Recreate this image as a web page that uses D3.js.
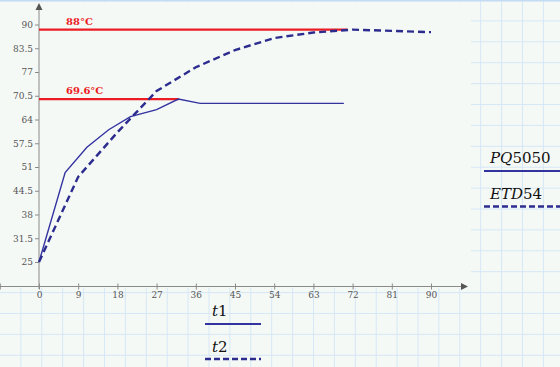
<!DOCTYPE html>
<html><head><meta charset="utf-8">
<script src="https://cdn.jsdelivr.net/npm/d3@7"></script>
<style>
html,body{margin:0;padding:0;background:#f5f9f6;}
svg{display:block;}
</style></head>
<body>
<svg id="c" width="560" height="367"></svg>
<script>
// ---- data ----
const t1 = [0, 6, 11, 16, 21, 27, 32, 37, 70];
const pq5050 = [25, 49.5, 56.4, 61.2, 64.8, 66.7, 69.6, 68.4, 68.4];
const t2 = [0, 9, 18, 27, 36, 45, 54, 63, 72, 90];
const etd54 = [25, 48.3, 60.5, 71.8, 78.3, 83, 86.3, 87.8, 88.6, 87.9];
const refValues = [88.6, 69.6];
const refEnds = [70.8, 32.1];
const refLabels = ["88°C", "69.6°C"];
const xTicks = [0, 9, 18, 27, 36, 45, 54, 63, 72, 81, 90];
const yTicks = [25, 31.5, 38, 44.5, 51, 57.5, 64, 70.5, 77, 83.5, 90];
const xLabels = ["t", "1"];
const xLabels2 = ["t", "2"];
const seriesNames = [["PQ", "5050"], ["ETD", "54"]];

const svg = d3.select("#c");
const W = 560, H = 367;
const serif = "DejaVu Serif";

// worksheet grid
const g0 = svg.append("g");
const step = 20.9;
for (let k = 1; k * step < W; k++) g0.append("line").attr("x1", k*step).attr("x2", k*step).attr("y1", 0).attr("y2", H).attr("stroke", "#d6e7f6").attr("stroke-width", 1);
for (let k = 1; k * step < H; k++) g0.append("line").attr("y1", k*step).attr("y2", k*step).attr("x1", 0).attr("x2", W).attr("stroke", "#d6e7f6").attr("stroke-width", 1);
g0.append("rect").attr("x", 0).attr("y", 2).attr("width", 471).attr("height", 286).attr("fill", "#f5f9f6");
g0.append("line").attr("x1", 0).attr("x2", W).attr("y1", 0.5).attr("y2", 0.5).attr("stroke", "#c4dcf3").attr("stroke-width", 2);

// scales
const x = d3.scaleLinear().domain([0, 90]).range([39, 431]);
const y = d3.scaleLinear().domain([25, 90]).range([262, 24.5]);
const axisY = 286.5, axisX = 39;

// x axis
const xa = svg.append("g").attr("transform", `translate(0,${axisY})`)
  .call(d3.axisBottom(x).tickValues([-9].concat(xTicks)).tickFormat(d => d < 0 ? "" : String(d)).tickSize(3).tickPadding(4))
  .attr("font-family", serif);
xa.select(".domain").remove();
xa.append("line").attr("x1", 0).attr("x2", 462).attr("stroke", "#8a8a8a").attr("stroke-width", 1);
xa.append("path").attr("d", "M468,0 L461,-3.5 L461,3.5 Z").attr("fill", "#555");
xa.selectAll(".tick line").attr("y1", -3).attr("y2", 3).attr("stroke", "#8a8a8a");
xa.selectAll(".tick text").attr("font-family", serif).attr("font-size", 9).attr("fill", "#555").attr("y", 5);

// y axis
const ya = svg.append("g").attr("transform", `translate(${axisX},0)`)
  .call(d3.axisLeft(y).tickValues(yTicks).tickFormat(d => String(d)).tickSize(4).tickPadding(2))
  .attr("font-family", serif);
ya.select(".domain").remove();
ya.append("line").attr("y1", 289).attr("y2", 10).attr("stroke", "#8a8a8a").attr("stroke-width", 1);
ya.append("path").attr("d", "M0,3 L-3.5,10 L3.5,10 Z").attr("fill", "#555");
ya.selectAll(".tick line").attr("stroke", "#8a8a8a");
ya.selectAll(".tick text").attr("font-family", serif).attr("font-size", 9).attr("fill", "#555");

// reference lines
refValues.forEach((v, i) => {
  svg.append("line").attr("x1", x(0)).attr("x2", x(refEnds[i])).attr("y1", y(v)).attr("y2", y(v))
    .attr("stroke", "#ec1c24").attr("stroke-width", 2.2);
  svg.append("text").attr("x", 66).attr("y", y(v) - 5).text(refLabels[i])
    .attr("font-family", serif).attr("font-weight", "bold").attr("font-size", 10).attr("fill", "#ec1c24");
});

// series
const line = d3.line().x(d => x(d[0])).y(d => y(d[1]));
svg.append("path").datum(t1.map((t, i) => [t, pq5050[i]])).attr("d", line)
  .attr("fill", "none").attr("stroke", "#3333a0").attr("stroke-width", 1.4);
svg.append("path").datum(t2.map((t, i) => [t, etd54[i]])).attr("d", line)
  .attr("fill", "none").attr("stroke", "#2c2c8e").attr("stroke-width", 2.4).attr("stroke-dasharray", "7,4");

// legend helper
function label(xp, yp, parts, size) {
  const tx = svg.append("text").attr("x", xp).attr("y", yp).attr("font-family", serif).attr("font-size", size).attr("fill", "#111");
  tx.append("tspan").attr("font-style", "italic").text(parts[0]);
  tx.append("tspan").text(parts[1]);
}
label(212, 316, xLabels, 15);
svg.append("line").attr("x1", 205).attr("x2", 261).attr("y1", 324).attr("y2", 324).attr("stroke", "#3333a0").attr("stroke-width", 1.8);
label(212, 352, xLabels2, 15);
svg.append("line").attr("x1", 205).attr("x2", 261).attr("y1", 359).attr("y2", 359).attr("stroke", "#2c2c8e").attr("stroke-width", 2.4).attr("stroke-dasharray", "6,3");

label(490, 163, seriesNames[0], 15);
svg.append("line").attr("x1", 484).attr("x2", 560).attr("y1", 171).attr("y2", 171).attr("stroke", "#3333a0").attr("stroke-width", 1.8);
label(490, 199, seriesNames[1], 15);
svg.append("line").attr("x1", 484).attr("x2", 560).attr("y1", 206.5).attr("y2", 206.5).attr("stroke", "#2c2c8e").attr("stroke-width", 2.4).attr("stroke-dasharray", "6,3");
</script>
</body></html>
